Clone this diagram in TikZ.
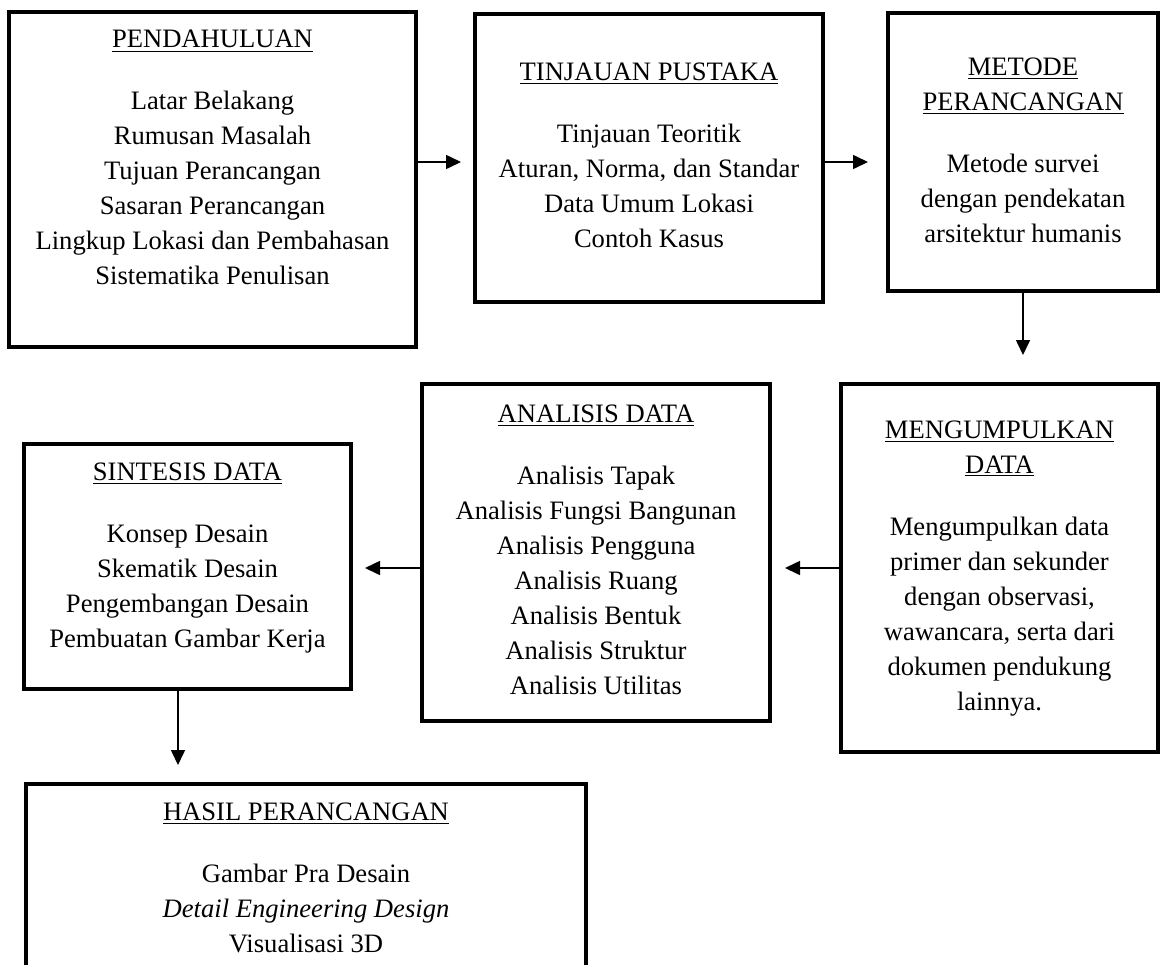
\documentclass[tikz,border=0pt]{standalone}
\usepackage{fontspec}
\setmainfont{Liberation Serif}
\usetikzlibrary{positioning,arrows.meta}

\begin{document}
\begin{tikzpicture}[x=0.5pt,y=-0.5pt, % one unit = one pixel, y downwards
  kotak/.style={draw,line width=2pt,inner sep=0pt},
  isi/.style={align=center,inner sep=0pt,font=\fontsize{13.3}{17.5}\selectfont},
  panah/.style={-{Triangle[length=7.5pt,width=7pt]},line width=0.8pt}]
\useasboundingbox (0,0) rectangle (1162,964);
\clip (0,0) rectangle (1162,964);

\node[kotak,minimum width=203.5pt,minimum height=167.5pt] (pendahuluan) at (212.5,179.5) {};
\node[kotak,minimum width=174pt,minimum height=144pt] (tinjauan) at (649,158) {};
\node[kotak,minimum width=135pt,minimum height=139pt] (metode) at (1023,152) {};
\node[kotak,minimum width=158.5pt,minimum height=184pt] (mengumpulkan) at (999.5,568) {};
\node[kotak,minimum width=174pt,minimum height=168.5pt] (analisis) at (596,552.5) {};
\node[kotak,minimum width=163.5pt,minimum height=122.5pt] (sintesis) at (187.5,566.5) {};
\node[kotak,minimum width=280pt,minimum height=113pt] (hasil) at (306,897) {};

\node[isi,below=10pt of pendahuluan.north] (isi1) {\underline{PENDAHULUAN}\\[13.5pt]
  Latar Belakang\\ Rumusan Masalah\\ Tujuan Perancangan\\ Sasaran Perancangan\\
  Lingkup Lokasi dan Pembahasan\\ Sistematika Penulisan};
\node[isi,below=25pt of tinjauan.north] (isi2) {\underline{TINJAUAN PUSTAKA}\\[13.5pt]
  Tinjauan Teoritik\\ Aturan, Norma, dan Standar\\ Data Umum Lokasi\\ Contoh Kasus};
\node[isi,below=23pt of metode.north] (isi3) {\underline{METODE}\\ \underline{PERANCANGAN}\\[13.5pt]
  Metode survei\\ dengan pendekatan\\ arsitektur humanis};
\node[isi,below=19pt of mengumpulkan.north] (isi4) {\underline{MENGUMPULKAN}\\ \underline{DATA}\\[13.5pt]
  Mengumpulkan data\\ primer dan sekunder\\ dengan observasi,\\ wawancara, serta dari\\
  dokumen pendukung\\ lainnya.};
\node[isi,below=11pt of analisis.north] (isi5) {\underline{ANALISIS DATA}\\[13.5pt]
  Analisis Tapak\\ Analisis Fungsi Bangunan\\ Analisis Pengguna\\ Analisis Ruang\\
  Analisis Bentuk\\ Analisis Struktur\\ Analisis Utilitas};
\node[isi,below=10pt of sintesis.north] (isi6) {\underline{SINTESIS DATA}\\[13.5pt]
  Konsep Desain\\ Skematik Desain\\ Pengembangan Desain\\ Pembuatan Gambar Kerja};
\node[isi,below=10pt of hasil.north] (isi7) {\underline{HASIL PERANCANGAN}\\[13.5pt]
  Gambar Pra Desain\\ \textit{Detail Engineering Design}\\ Visualisasi 3D};

\draw[panah,shorten >=6pt] ([yshift=-2pt]tinjauan.west -| pendahuluan.east) -- ([yshift=-2pt]tinjauan.west);
\draw[panah,shorten >=9pt] ([yshift=-2pt]tinjauan.east) -- ([yshift=-2pt]tinjauan.east -| metode.west);
\draw[panah,shorten >=13.5pt] (metode.south) -- (metode.south |- mengumpulkan.north);
\draw[panah,shorten >=6.5pt] (mengumpulkan.west) -- (mengumpulkan.west -| analisis.east);
\draw[panah,shorten >=6pt] (analisis.west |- mengumpulkan.west) -- (sintesis.east |- mengumpulkan.west);
\draw[panah,shorten >=8.5pt] ([xshift=-4.75pt]sintesis.south) -- ([xshift=-4.75pt]sintesis.south |- hasil.north);

\end{tikzpicture}
\end{document}
